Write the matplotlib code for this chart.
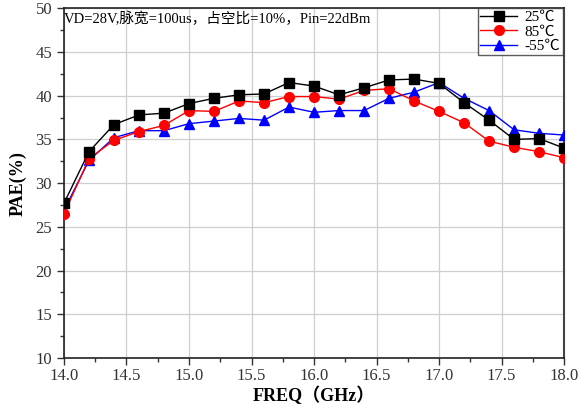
import numpy as np
import matplotlib
matplotlib.use("Agg")
import matplotlib.pyplot as plt
from matplotlib.ticker import MultipleLocator, FormatStrFormatter

plt.rcParams['font.family'] = ['Liberation Serif', 'Noto Sans CJK SC']

freq = [14.0, 14.2, 14.4, 14.6, 14.8, 15.0, 15.2, 15.4, 15.6, 15.8, 16.0,
        16.2, 16.4, 16.6, 16.8, 17.0, 17.2, 17.4, 17.6, 17.8, 18.0]
pae_25 = [27.7, 33.6, 36.7, 37.8, 38.0, 39.1, 39.7, 40.1, 40.2, 41.5, 41.1,
          40.1, 40.9, 41.8, 41.9, 41.4, 39.2, 37.2, 35.0, 35.1, 34.0]
pae_85 = [26.5, 32.8, 34.9, 35.9, 36.6, 38.3, 38.2, 39.4, 39.2, 39.9, 39.9,
          39.6, 40.6, 40.8, 39.4, 38.2, 36.9, 34.8, 34.1, 33.6, 32.9]
pae_m55 = [26.9, 32.6, 35.2, 36.0, 36.0, 36.8, 37.1, 37.4, 37.2, 38.7, 38.1,
           38.3, 38.3, 39.7, 40.4, 41.5, 39.7, 38.3, 36.1, 35.7, 35.5]

fig = plt.figure(figsize=(5.87, 4.12), dpi=100)
ax = fig.add_axes([0.109, 0.131, 0.852, 0.849])

ax.plot(freq, pae_25, color='black', lw=1, marker='s', ms=6.5, label='25\u2103', zorder=5)
ax.plot(freq, pae_85, color='red', lw=1, marker='o', ms=7, label='85\u2103', zorder=4)
ax.plot(freq, pae_m55, color='blue', lw=1, marker='^', ms=7.5, label='-55\u2103', zorder=3)

ax.set_xlim(14, 18)
ax.set_ylim(10, 50)
ax.xaxis.set_major_locator(MultipleLocator(0.5))
ax.xaxis.set_minor_locator(MultipleLocator(0.25))
ax.yaxis.set_major_locator(MultipleLocator(5))
ax.yaxis.set_minor_locator(MultipleLocator(2.5))
ax.xaxis.set_major_formatter(FormatStrFormatter('%.1f'))
ax.grid(True, which='major', color='#cfcfcf', lw=0.9)
ax.set_axisbelow(True)
ax.tick_params(which='major', direction='out', length=5, width=1, labelsize=12, colors='#333333')
ax.tick_params(which='minor', direction='out', length=3, width=1, colors='#333333')
ax.tick_params(axis='x', pad=2)

for side in ['left', 'bottom', 'top']:
    ax.spines[side].set_color('#222222')
    ax.spines[side].set_linewidth(1.2)
ax.spines['right'].set_color('#444444')
ax.spines['right'].set_linewidth(1.5)

ax.set_xlabel('FREQ\uff08GHz\uff09', fontsize=13, fontweight='bold', labelpad=2)
ax.set_ylabel('PAE(%)', fontsize=13, fontweight='bold', labelpad=6)

ax.text(0.0, 0.99, 'VD=28V,\u8109\u5bbd=100us\uff0c\u5360\u7a7a\u6bd4=10%\uff0cPin=22dBm',
        transform=ax.transAxes, fontsize=10.5, va='top', ha='left')

leg = ax.legend(loc='upper right', bbox_to_anchor=(0.997, 1.0), fontsize=11, frameon=True,
                fancybox=False, borderpad=0.15, labelspacing=0.05, handlelength=2.4,
                handletextpad=0.5, borderaxespad=0.0, edgecolor='#333333')
leg.get_frame().set_linewidth(1.0)

fig.savefig('out.png', dpi=100)
